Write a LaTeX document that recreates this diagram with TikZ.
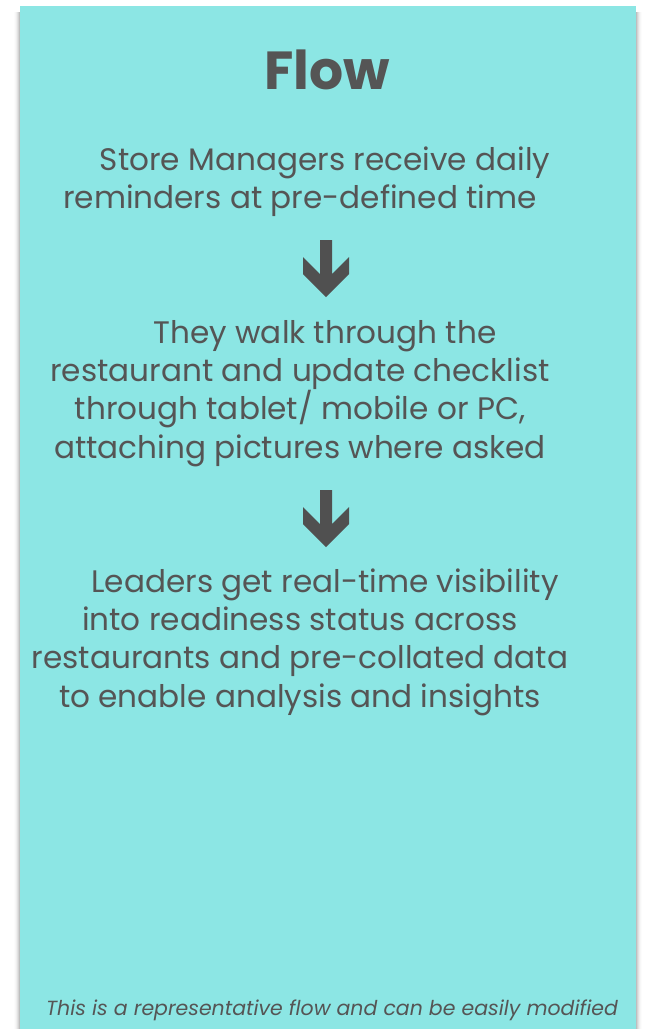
\documentclass[tikz,border=0pt]{standalone}
\usepackage{fontspec}
\setmainfont{Poppins}
\usetikzlibrary{positioning}

\definecolor{panelcyan}{RGB}{140,230,228}
\definecolor{inkgray}{RGB}{85,85,85}
\definecolor{arrowgray}{RGB}{80,80,80}

\tikzset{
    steptext/.style={align=center, inner sep=0pt, anchor=base, text=inkgray,
        font=\fontsize{17.7}{21.8}\selectfont},
    flowarrow/.pic={
        \fill[arrowgray] (-6,0) -- (6,0) -- (6,34) -- (23,17) -- (23,34)
            -- (0,57) -- (-23,34) -- (-23,17) -- (-6,34) -- cycle;
    }
}

\begin{document}
\begin{tikzpicture}[x=0.02cm,y=-0.02cm]
    \useasboundingbox (0,0) rectangle (645,1029);
    % soft shadow round the panel
    \foreach \d/\o in {1/0.10,2/0.07,3/0.05,4/0.03,5/0.02,6/0.01}
        \fill[black, opacity=\o] (20-\d,12) rectangle (636+\d,1029);
    \fill[panelcyan] (20,6) rectangle (636,1029);

    \node[inner sep=0pt, anchor=base, text=inkgray,
        font=\fontsize{30.5}{36}\selectfont\bfseries] (title) at (327,89) {Flow};

    % base anchor sits on the last line of each block
    \node[steptext] (step1) at (300,208.5)
        {\hspace*{1cm}Store Managers receive daily\\
         reminders at pre-defined time};
    \pic at (326,240) {flowarrow};
    \node[steptext] (step2) at (300,458)
        {\hspace*{1cm}They walk through the\\
         restaurant and update checklist\\
         through tablet/ mobile or PC,\\
         attaching pictures where asked};
    \pic at (326,490) {flowarrow};
    \node[steptext] (step3) at (300,707)
        {\hspace*{1cm}Leaders get real-time visibility\\
         into readiness status across\\
         restaurants and pre-collated data\\
         to enable analysis and insights};

    \node[inner sep=0pt, anchor=base, text=inkgray,
        font=\fontsize{11.65}{13}\selectfont\itshape] (note) at (332,1015)
        {This is a representative flow and can be easily modified};
\end{tikzpicture}
\end{document}
